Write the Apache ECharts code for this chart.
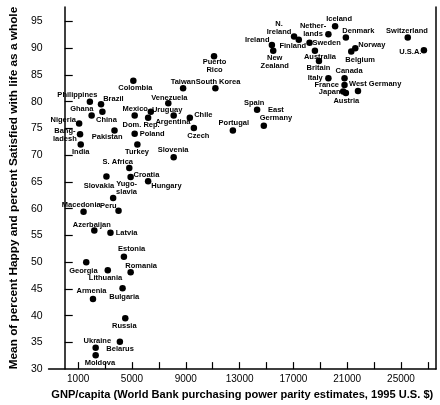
<!DOCTYPE html>
<html>
<head>
<meta charset="utf-8">
<script src="https://cdn.jsdelivr.net/npm/echarts@6/dist/echarts.min.js"></script>
<style>
html,body{margin:0;padding:0;background:#fff;}
#chart{width:440px;height:405px;}
</style>
</head>
<body>
<div id="chart"></div>
<script>
// ---- data ----
const countries = ['Colombia','Taiwan','South Korea','Puerto\nRico','Philippines','Brazil','Ghana','China','Nigeria','Bang-\nladesh','India','Pakistan','Mexico','Dom. Rep.','Uruguay','Venezuela','Argentina','Chile','Czech','Poland','Turkey','Slovenia','S. Africa','Croatia','Slovakia','Hungary','Yugo-\nslavia','Peru','Macedonia','Azerbaijan','Latvia','Estonia','Georgia','Lithuania','Romania','Bulgaria','Armenia','Russia','Belarus','Ukraine','Moldova','Spain','East\nGermany','Portugal','Ireland','New\nZealand','N.\nIreland','Finland','Sweden','Nether-\nlands','Iceland','Denmark','Switzerland','Norway','Belgium','U.S.A.','Australia','Britain','Italy','Canada','France','Japan','Austria','West Germany'];
const gnp = [5100,8800,11200,11100,1870,2700,2000,2800,1070,1140,1190,3700,5200,6200,6400,7700,8100,9300,9600,5200,5400,8100,4800,4900,3100,6200,3600,4000,1400,2200,3400,4400,1600,3200,4900,4300,2100,4500,4100,2300,2300,14300,14800,12500,15400,15500,17050,17400,18200,19600,20100,20900,25500,21600,21300,26700,18600,18900,19600,20800,20800,20700,20900,21800];
const happy = [83.9,82.5,82.5,88.5,80.0,79.5,77.4,78.1,75.9,73.9,72.0,74.6,77.4,77.0,78.1,79.7,77.4,77.0,75.1,74.0,72.0,69.6,67.6,65.9,66.0,65.1,62.0,59.6,59.4,55.9,55.5,51.0,50.0,48.5,48.1,45.1,43.1,39.5,35.1,34.0,32.6,78.5,75.5,74.6,90.6,89.5,92.2,91.6,91.0,92.6,94.1,92.0,92.0,90.0,89.4,89.6,89.5,87.6,84.4,84.4,83.1,81.9,81.6,82.0];
const xTicks = [1000,3000,5000,7000,9000,11000,13000,15000,17000,19000,21000,23000,25000,27000];
const xLabels = [1000,5000,9000,13000,17000,21000,25000];
const yTicks = [35,40,45,50,55,60,65,70,75,80,85,90,95];
const yLabels = [30,35,40,45,50,55,60,65,70,75,80,85,90,95];

// ---- label placement (style, pixel offsets from dot centre) ----
const labelOffset = {
 'Colombia':[2,6.7],'Taiwan':[0,-6.3],'South Korea':[2.7,-6.5],'Puerto\nRico':[0.5,9.5],
 'Philippines':[-12.5,-7],'Brazil':[12.3,-5.7],'Ghana':[-9.8,-6.7],'China':[4,8.4],
 'Nigeria':[-15.9,-3.8],'Bang-\nladesh':[-15.2,0.7],'India':[0,7.8],'Pakistan':[-7.3,6.7],
 'Mexico':[0.5,-6.4],'Dom. Rep.':[-7,7],'Uruguay':[16.3,-2.1],'Venezuela':[1,-5.7],
 'Argentina':[-0.8,6.1],'Chile':[13.5,-2.3],'Czech':[4.5,7.7],'Poland':[17.5,0],
 'Turkey':[-0.4,7],'Slovenia':[-0.6,-7.2],'S. Africa':[-11.5,-6.5],'Croatia':[15.8,-2.6],
 'Slovakia':[-7.5,9.1],'Hungary':[18.3,4.6],'Yugo-\nslavia':[13.4,-9.9],'Peru':[-10.2,-5],
 'Macedonia':[-2.3,-6.5],'Azerbaijan':[-2.5,-5.5],'Latvia':[16.1,-0.2],'Estonia':[7.7,-7.8],
 'Georgia':[-2.8,8.4],'Lithuania':[-2.3,8.1],'Romania':[10.5,-6.4],'Bulgaria':[1.7,9],
 'Armenia':[-1.5,-8.2],'Russia':[-1,8],'Belarus':[0.2,7],'Ukraine':[1.7,-7],'Moldova':[4.2,7.5],
 'Spain':[-3,-7.2],'East\nGermany':[12.1,-11.7],'Portugal':[0.9,-7.5],'Ireland':[-14.7,-4.8],
 'New\nZealand':[1.5,11],'N.\nIreland':[-15,-8.9],'Finland':[-6,6],'Sweden':[17,0.5],
 'Nether-\nlands':[-15.3,-4.6],'Iceland':[4,-7],'Denmark':[12.5,-6.5],'Switzerland':[-0.8,-6.5],
 'Norway':[16.5,-3.5],'Belgium':[8.9,8.6],'U.S.A.':[-13.5,2],'Australia':[5,5.9],
 'Britain':[-0.5,7.1],'Italy':[-13.2,0.3],'Canada':[4.5,-7.5],'France':[-17.8,0.2],
 'Japan':[-13.5,0.4],'Austria':[0.5,8],'West Germany':[17.2,-7.3]
};

const points = countries.map((c, i) => ({ name: c, value: [gnp[i], happy[i]] }));

const chart = echarts.init(document.getElementById('chart'));
chart.setOption({
  animation: false,
  backgroundColor: '#fff',
  grid: { left: 42, right: 4, top: 7, bottom: 31, containLabel: false },
  xAxis: {
    type: 'value', min: -1200, max: 27600,
    name: 'GNP/capita (World Bank purchasing power parity estimates, 1995 U.S. $)',
    nameLocation: 'middle', nameGap: 15,
    nameTextStyle: { fontFamily: 'Liberation Sans', fontWeight: 'bold', fontSize: 11.1, color: '#000' },
    axisLine: { lineStyle: { color: '#000', width: 1.5 } },
    axisTick: { show: true, inside: true, length: 7, customValues: xTicks, lineStyle: { color: '#000', width: 1.2 } },
    axisLabel: { customValues: xLabels, formatter: v => String(v), fontFamily: 'Liberation Sans', fontSize: 10, color: '#000', margin: 5 },
    splitLine: { show: false }
  },
  yAxis: [{
    type: 'value', min: 30, max: 97.7,
    name: 'Mean of percent Happy and percent Satisfied with life as a whole',
    nameLocation: 'middle', nameGap: 23,
    nameTextStyle: { fontFamily: 'Liberation Sans', fontWeight: 'bold', fontSize: 11.8, color: '#000' },
    axisLine: { show: true, lineStyle: { color: '#000', width: 1.5 } },
    axisTick: { show: true, inside: true, length: 8, customValues: yTicks, lineStyle: { color: '#000', width: 1.2 } },
    axisLabel: { customValues: yLabels, formatter: v => String(v), fontFamily: 'Liberation Sans', fontSize: 10.5, color: '#000', margin: 6 },
    splitLine: { show: false }
  }, {
    type: 'value', min: 30, max: 97.7, position: 'right',
    axisLine: { show: true, lineStyle: { color: '#000', width: 1.5 } },
    axisTick: { show: false }, axisLabel: { show: false }, splitLine: { show: false }
  }],
  series: [{
    type: 'scatter',
    symbolSize: 6.5,
    itemStyle: { color: '#000', opacity: 1 },
    label: {
      show: true, position: 'inside',
      formatter: p => p.name,
      fontFamily: 'Liberation Sans', fontWeight: 'bold', fontSize: 7.5, lineHeight: 8,
      color: '#000', align: 'center', verticalAlign: 'middle'
    },
    labelLayout: function (params) {
      const o = labelOffset[countries[params.dataIndex]] || [0, 0];
      return { dx: o[0], dy: o[1], hideOverlap: false };
    },
    emphasis: { disabled: true },
    data: points
  }]
});
</script>
</body>
</html>
